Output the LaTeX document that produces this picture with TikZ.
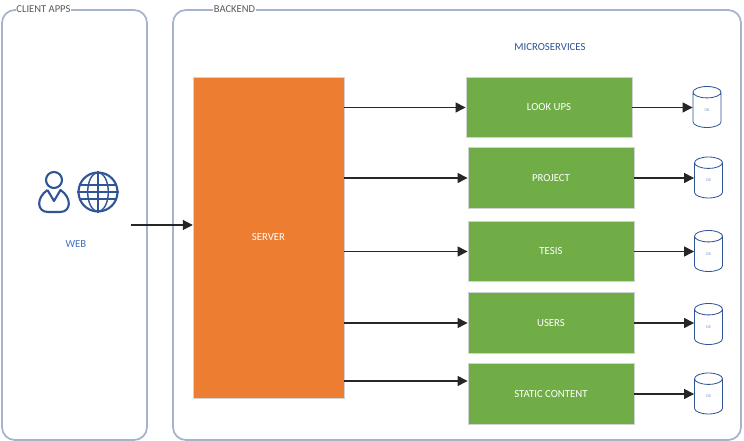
\documentclass[tikz,border=0pt]{standalone}
\usepackage{fontspec}
\usepackage{xcolor}
\setmainfont{Carlito}
\usetikzlibrary{arrows.meta, calc, shapes.geometric}
\definecolor{framecol}{HTML}{A5B4CC}
\definecolor{iconcol}{HTML}{2F5597}
\definecolor{webcol}{HTML}{4472C4}
\definecolor{orangecol}{HTML}{ED7D31}
\definecolor{greencol}{HTML}{70AD47}

\begin{document}
\begin{tikzpicture}[
  group/.style={rectangle, draw=framecol, rounded corners=11pt, line width=1.5pt, fill=white, minimum height=12.9cm},
  grouplabel/.style={fill=white, inner sep=0.5pt, text=gray!70!black, font=\fontsize{9}{10}\selectfont},
  server/.style={rectangle, draw=gray!35, fill=orangecol, minimum width=4.53cm, minimum height=9.63cm, text=white, font=\fontsize{9.2}{10}\selectfont},
  service/.style={rectangle, draw=gray!35, line width=0.7pt, fill=greencol, minimum width=4.98cm, minimum height=1.82cm, text=white, font=\fontsize{9.2}{10}\selectfont},
  dbase/.style={cylinder, shape border rotate=90, aspect=2.4, anchor=shape center, draw=iconcol, line width=0.7pt, minimum width=0.84cm, minimum height=1.23cm, inner sep=0pt, text=webcol!70, font=\fontsize{3.5}{4}\selectfont},
  link/.style={-{Triangle[length=3mm,width=3mm]}, line width=0.9pt, black!85},
  icon/.style={draw=iconcol, line width=1.8pt}
]
\useasboundingbox (0,0) rectangle (22.32,13.23);
\node[group, minimum width=4.35cm] (client) at (2.235,6.48) {};
\node[group, minimum width=17.04cm] (backend) at (13.71,6.48) {};
\node[grouplabel] (clientlabel) at (1.305,12.96) {CLIENT APPS};
\node[grouplabel] (backendlabel) at (7.035,12.96) {BACKEND};
\node[font=\fontsize{9.2}{10}\selectfont, text=iconcol] (micro) at (16.5,11.82) {MICROSERVICES};
\node[font=\fontsize{9.2}{10}\selectfont, text=webcol] (web) at (2.28,5.91) {WEB};
% client icons
\node[circle, icon, minimum size=0.48cm, inner sep=0pt] (head) at (1.62,7.83) {};
\draw[icon, line join=round] (1.425,7.53) -- (1.62,7.2) -- (1.815,7.53) .. controls (2.16,7.3) and (2.14,6.87) .. (1.8,6.87) -- (1.44,6.87) .. controls (1.1,6.87) and (1.08,7.3) .. (1.425,7.53);
\node[circle, icon, minimum size=1.17cm, inner sep=0pt] (globe) at (2.94,7.47) {};
\draw[icon, line width=1.2pt] (globe.center) ellipse (0.31 and 0.585);
\draw[icon, line width=1.2pt] (globe.north) -- (globe.south);
\draw[icon, line width=1.2pt] (globe.west) -- (globe.east);
\draw[icon, line width=1.2pt] ($(globe.center)+(-0.54,0.21)$) -- ($(globe.center)+(0.54,0.21)$);
\draw[icon, line width=1.2pt] ($(globe.center)+(-0.54,-0.21)$) -- ($(globe.center)+(0.54,-0.21)$);
% backend
\node[server] (srv) at (8.055,6.105) {SERVER};
\node[service] (lookups) at (16.47,10.005) {LOOK UPS};
\node[service] (project) at (16.53,7.89) {PROJECT};
\node[service] (tesis) at (16.53,5.685) {TESIS};
\node[service] (users) at (16.53,3.54) {USERS};
\node[service] (static) at (16.53,1.41) {STATIC CONTENT};
\node[dbase] (db1) at (21.21,10.02) {DB};
\node[dbase] (db2) at (21.255,7.905) {DB};
\node[dbase] (db3) at (21.255,5.7) {DB};
\node[dbase] (db4) at (21.255,3.51) {DB};
\node[dbase] (db5) at (21.255,1.425) {DB};
% connectors
\coordinate (webout) at (3.93,6.48);
\draw[link] (webout) -- (webout -| srv.west);
\draw[link] (srv.east |- lookups.west) -- (lookups.west);
\draw[link] (srv.east |- project.west) -- (project.west);
\draw[link] (srv.east |- tesis.west) -- (tesis.west);
\draw[link] (srv.east |- users.west) -- (users.west);
\coordinate (staticin) at ($(static.west)+(0,0.39)$);
\draw[link] (srv.east |- staticin) -- (staticin);
\draw[link] (lookups.east) -- (lookups.east -| db1.west);
\draw[link] (project.east) -- (project.east -| db2.west);
\draw[link] (tesis.east) -- (tesis.east -| db3.west);
\draw[link] (users.east) -- (users.east -| db4.west);
\draw[link] (static.east) -- (static.east -| db5.west);
\end{tikzpicture}
\end{document}
